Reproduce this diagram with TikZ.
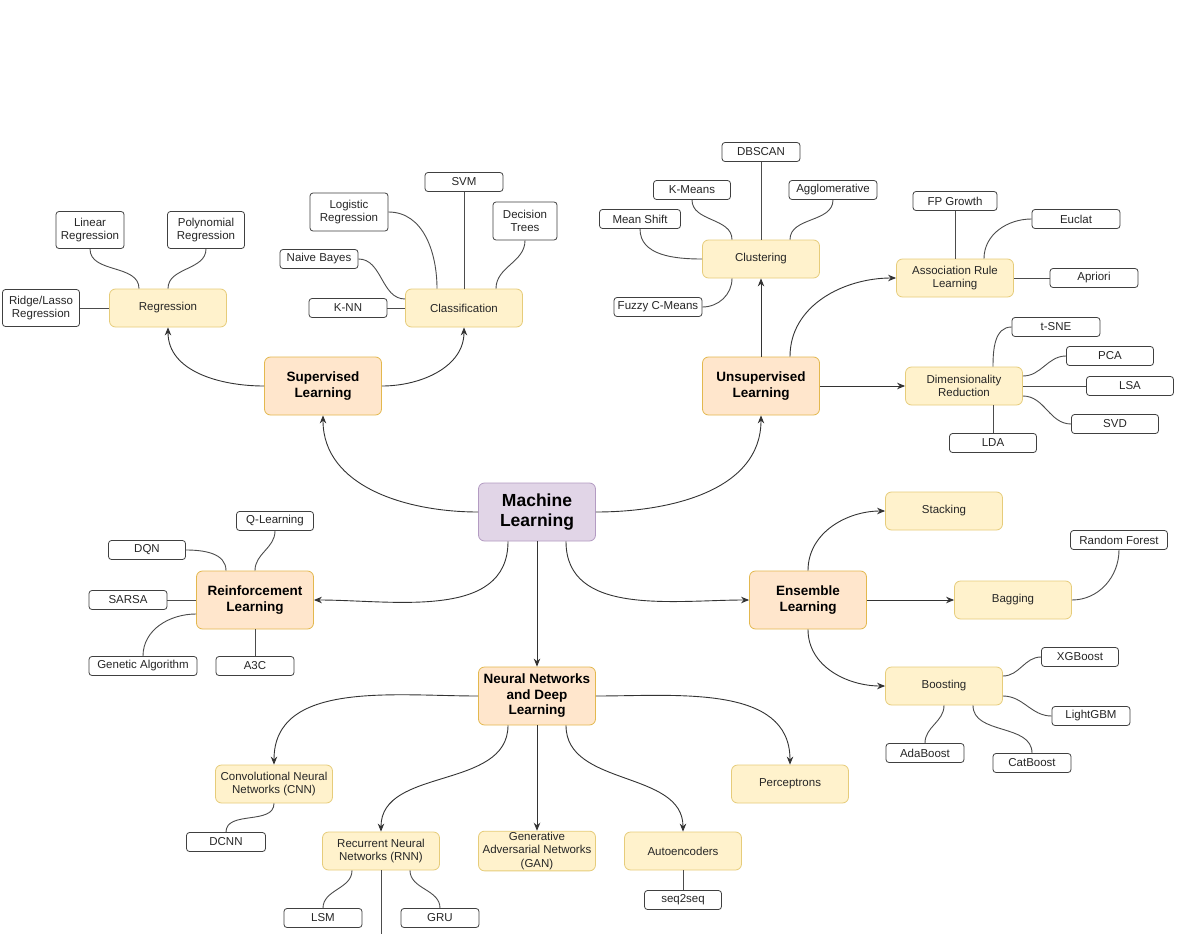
\documentclass[tikz,border=0pt]{standalone}
\usepackage{fontspec}
\setmainfont{Liberation Sans}
\usetikzlibrary{arrows.meta}
\definecolor{mlfill}{HTML}{E1D5E7}
\definecolor{mldraw}{HTML}{B39BC2}
\definecolor{catfill}{HTML}{FFE6CC}
\definecolor{catdraw}{HTML}{E3B84E}
\definecolor{subfill}{HTML}{FFF2CC}
\definecolor{subdraw}{HTML}{E6CC7A}

\begin{document}
\begin{tikzpicture}[x=1pt,y=1pt,
	leaf/.style={draw=black!75, fill=white, rounded corners=3pt, line width=0.8pt, inner sep=1pt, minimum width=78pt, minimum height=19pt, align=center, text=black!85, font=\fontsize{11.5}{13.5}\selectfont},
	sub/.style={draw=subdraw, fill=subfill, rounded corners=6pt, line width=0.8pt, inner sep=1pt, minimum width=117pt, minimum height=38pt, align=center, text=black!85, font=\fontsize{11.5}{13.5}\selectfont},
	cat/.style={sub, draw=catdraw, fill=catfill, minimum height=58pt, text=black, font=\bfseries\fontsize{13.5}{15.5}\selectfont},
	root/.style={cat, draw=mldraw, fill=mlfill, font=\bfseries\fontsize{17.5}{20}\selectfont},
	arr/.style={-{Stealth[length=8pt,width=6.5pt]}, line width=0.9pt, draw=black!80},
	wire/.style={line width=0.9pt, draw=black!70}]
	\useasboundingbox[fill=white] (0,0) rectangle (1200,-934);
	
	%main nodes
	\node[root] (ml)  at (537,-512) {Machine\\Learning};
	\node[cat]  (sup) at (323,-386) {Supervised\\Learning};
	\node[cat]  (uns) at (761,-386) {Unsupervised\\Learning};
	\node[cat]  (rl)  at (255,-600) {Reinforcement\\Learning};
	\node[cat]  (ens) at (808,-600) {Ensemble\\Learning};
	\node[cat]  (nn)  at (537,-696) {Neural Networks\\and Deep\\Learning};
	
	%second level
	\node[sub] (reg) at (168,-308) {Regression};
	\node[sub] (cls) at (464,-308) {Classification};
	\node[sub] (clu) at (761,-259) {Clustering};
	\node[sub] (arl) at (955,-278) {Association Rule\\Learning};
	\node[sub] (dr)  at (964,-386) {Dimensionality\\Reduction};
	\node[sub] (stk) at (944,-511) {Stacking};
	\node[sub] (bag) at (1013,-600) {Bagging};
	\node[sub] (bst) at (944,-686) {Boosting};
	\node[sub] (cnn) at (274,-784) {Convolutional Neural\\Networks (CNN)};
	\node[sub] (rnn) at (381,-851) {Recurrent Neural\\Networks (RNN)};
	\node[sub] (gan) at (537,-851) {Generative\\Adversarial Networks\\(GAN)};
	\node[sub] (ae)  at (683,-851) {Autoencoders};
	\node[sub] (per) at (790,-784) {Perceptrons};
	
	%leaves supervised
	\node[leaf, minimum width=68pt, minimum height=37pt] (linr) at (90,-230) {Linear\\Regression};
	\node[leaf, minimum width=77pt, minimum height=37pt] (polr) at (206,-230) {Polynomial\\Regression};
	\node[leaf, minimum width=77pt, minimum height=37pt] (ridge) at (41,-308) {Ridge/Lasso\\Regression};
	\node[leaf, minimum height=38pt] (logr) at (349,-212) {Logistic\\Regression};
	\node[leaf] (svm) at (464,-182) {SVM};
	\node[leaf, minimum width=64pt, minimum height=38pt] (dt) at (525,-221) {Decision\\Trees};
	\node[leaf] (nb)  at (319,-259) {Naive Bayes};
	\node[leaf] (knn) at (348,-308) {K-NN};
	
	%leaves unsupervised
	\node[leaf] (dbs) at (761,-152) {DBSCAN};
	\node[leaf, minimum width=77pt] (km) at (692,-190) {K-Means};
	\node[leaf, minimum width=88pt] (agg) at (833,-190) {Agglomerative};
	\node[leaf, minimum width=81pt] (ms) at (640,-219) {Mean Shift};
	\node[leaf, minimum width=88pt] (fcm) at (658,-307) {Fuzzy C-Means};
	\node[leaf, minimum width=84pt] (fpg) at (955,-201) {FP Growth};
	\node[leaf, minimum width=88pt] (euc) at (1076,-219) {Euclat};
	\node[leaf, minimum width=88pt] (apr) at (1094,-278) {Apriori};
	\node[leaf, minimum width=88pt] (tsne) at (1056,-327) {t-SNE};
	\node[leaf, minimum width=87pt] (pca) at (1110,-356) {PCA};
	\node[leaf, minimum width=87pt] (lsa) at (1130,-386) {LSA};
	\node[leaf, minimum width=87pt] (svd) at (1115,-424) {SVD};
	\node[leaf, minimum width=87pt] (lda) at (993,-443) {LDA};
	
	%leaves reinforcement
	\node[leaf, minimum width=77pt] (ql) at (275,-521) {Q-Learning};
	\node[leaf, minimum width=77pt] (dqn) at (147,-550) {DQN};
	\node[leaf] (sarsa) at (128,-600) {SARSA};
	\node[leaf, minimum width=108pt] (ga) at (143,-666) {Genetic Algorithm};
	\node[leaf] (a3c) at (255,-666) {A3C};
	
	%leaves ensemble
	\node[leaf, minimum width=97pt] (rf) at (1119,-540) {Random Forest};
	\node[leaf, minimum width=77pt] (xgb) at (1080,-657) {XGBoost};
	\node[leaf] (lgbm) at (1091,-716) {LightGBM};
	\node[leaf] (ada) at (925,-753) {AdaBoost};
	\node[leaf] (cat) at (1032,-763) {CatBoost};
	
	%leaves neural networks
	\node[leaf, minimum width=79pt] (dcnn) at (226,-842) {DCNN};
	\node[leaf] (lsm) at (323,-918) {LSM};
	\node[leaf] (gru) at (440,-918) {GRU};
	\node[leaf, minimum width=77pt] (s2s) at (683,-900) {seq2seq};
	\coordinate (rnnend) at (381,-940);
	
	%arrows from machine learning
	\draw[arr] (ml.west) to[out=180,in=-90] (sup.south);
	\draw[arr] (ml.east) to[out=0,in=-90] (uns.south);
	\draw[arr] ([xshift=-29pt]ml.south) to[out=-90,in=0] (rl.east);
	\draw[arr] (ml.south) -- (nn.north);
	\draw[arr] ([xshift=29pt]ml.south) to[out=-90,in=180] (ens.west);
	
	%arrows to second level
	\draw[arr] (sup.west) to[out=180,in=-90] (reg.south);
	\draw[arr] (sup.east) to[out=0,in=-90] (cls.south);
	\draw[arr] (uns.north) -- (clu.south);
	\draw[arr] ([xshift=29pt]uns.north) to[out=90,in=180] (arl.west);
	\draw[arr] (uns.east) -- (dr.west);
	\draw[arr] (ens.north) to[out=90,in=180] (stk.west);
	\draw[arr] (ens.east) -- (bag.west);
	\draw[arr] (ens.south) to[out=-90,in=180] (bst.west);
	\draw[arr] (nn.west) to[out=180,in=90] (cnn.north);
	\draw[arr] ([xshift=-29pt]nn.south) to[out=-90,in=90] (rnn.north);
	\draw[arr] (nn.south) -- (gan.north);
	\draw[arr] ([xshift=29pt]nn.south) to[out=-90,in=90] (ae.north);
	\draw[arr] (nn.east) to[out=0,in=90] (per.north);
	
	%wires supervised
	\draw[wire] ([xshift=-29pt]reg.north) to[out=90,in=-90] (linr.south);
	\draw[wire] (reg.north) to[out=90,in=-90] (polr.south);
	\draw[wire] (reg.west) -- (ridge.east);
	\draw[wire] (knn.east) -- (cls.west);
	\draw[wire] (nb.east) to[out=0,in=180] ([yshift=9pt]cls.west);
	\draw[wire] (logr.east) to[out=0,in=90] ([xshift=-27pt]cls.north);
	\draw[wire] (svm.south) -- (cls.north);
	\draw[wire] (dt.south) to[out=-90,in=90] ([xshift=32pt]cls.north);
	
	%wires unsupervised
	\draw[wire] (dbs.south) -- (clu.north);
	\draw[wire] (km.south) to[out=-90,in=90] ([xshift=-29pt]clu.north);
	\draw[wire] (agg.south) to[out=-90,in=90] ([xshift=29pt]clu.north);
	\draw[wire] (ms.south) to[out=-90,in=180] (clu.west);
	\draw[wire] (fcm.east) to[out=0,in=-90] ([xshift=-29pt]clu.south);
	\draw[wire] (fpg.south) -- (arl.north);
	\draw[wire] (euc.west) to[out=180,in=90] ([xshift=29pt]arl.north);
	\draw[wire] (apr.west) -- (arl.east);
	\draw[wire] (tsne.west) to[out=180,in=90] ([xshift=29pt]dr.north);
	\draw[wire] (pca.west) to[out=180,in=0] ([yshift=10pt]dr.east);
	\draw[wire] (lsa.west) -- (dr.east);
	\draw[wire] (svd.west) to[out=180,in=0] ([yshift=-10pt]dr.east);
	\draw[wire] (lda.north) -- ([xshift=29pt]dr.south);
	
	%wires reinforcement
	\draw[wire] (ql.south) to[out=-90,in=90] (rl.north);
	\draw[wire] (dqn.east) to[out=0,in=90] ([xshift=-29pt]rl.north);
	\draw[wire] (sarsa.east) -- (rl.west);
	\draw[wire] (ga.north) to[out=90,in=180] ([yshift=-14pt]rl.west);
	\draw[wire] (a3c.north) -- (rl.south);
	
	%wires ensemble
	\draw[wire] (rf.south) to[out=-90,in=0] (bag.east);
	\draw[wire] (xgb.west) to[out=180,in=0] ([yshift=10pt]bst.east);
	\draw[wire] (lgbm.west) to[out=180,in=0] ([yshift=-10pt]bst.east);
	\draw[wire] (ada.north) to[out=90,in=-90] (bst.south);
	\draw[wire] (cat.north) to[out=90,in=-90] ([xshift=29pt]bst.south);
	
	%wires neural networks
	\draw[wire] (dcnn.north) to[out=90,in=-90] (cnn.south);
	\draw[wire] (lsm.north) to[out=90,in=-90] ([xshift=-29pt]rnn.south);
	\draw[wire] (gru.north) to[out=90,in=-90] ([xshift=29pt]rnn.south);
	\draw[wire] (rnn.south) -- (rnnend);
	\draw[wire] (s2s.north) -- (ae.south);
\end{tikzpicture}
\end{document}
